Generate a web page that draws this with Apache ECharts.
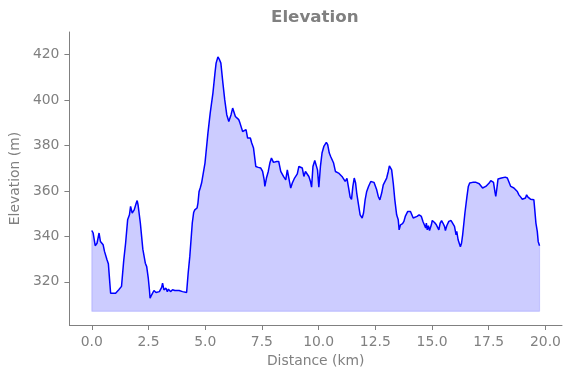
<!DOCTYPE html>
<html>
<head>
<meta charset="utf-8">
<title>Elevation</title>
<script src="https://cdn.jsdelivr.net/npm/echarts@6/dist/echarts.min.js"></script>
<style>
html,body{margin:0;padding:0;background:#fff;}
#echart1{width:571px;height:378px;}
</style>
</head>
<body>
<div id="echart1"></div>
<script>
// distance along the route (km)
var distanceKm = [0.00,0.06,0.15,0.23,0.32,0.38,0.44,0.50,0.56,0.61,0.67,0.70,0.73,0.79,0.83,0.90,1.05,1.19,1.25,1.31,
    1.41,1.49,1.58,1.66,1.71,1.78,1.87,1.96,2.00,2.04,2.14,2.25,2.36,2.42,2.49,2.54,2.57,2.64,2.74,2.83,
    2.98,3.08,3.12,3.18,3.27,3.33,3.38,3.47,3.56,3.66,3.73,3.85,3.91,4.00,4.18,4.25,4.32,4.43,4.49,4.54,
    4.64,4.68,4.73,4.78,4.84,4.90,4.99,5.12,5.22,5.34,5.43,5.48,5.56,5.63,5.69,5.78,5.86,5.95,6.04,6.14,
    6.21,6.29,6.33,6.40,6.48,6.53,6.65,6.73,6.80,6.87,6.99,7.05,7.09,7.13,7.19,7.23,7.34,7.45,7.53,7.60,
    7.63,7.70,7.78,7.85,7.92,8.01,8.07,8.15,8.24,8.33,8.45,8.55,8.62,8.70,8.77,8.84,8.94,9.06,9.13,9.20,
    9.28,9.35,9.42,9.50,9.57,9.64,9.69,9.75,9.83,9.89,9.95,10.01,10.08,10.15,10.23,10.30,10.34,10.40,10.47,10.53,
    10.59,10.66,10.74,10.81,10.88,10.95,11.03,11.10,11.17,11.25,11.32,11.39,11.45,11.51,11.57,11.63,11.68,11.76,11.83,11.92,
    11.98,12.05,12.12,12.20,12.30,12.35,12.44,12.50,12.56,12.63,12.70,12.78,12.85,12.92,13.00,13.07,13.12,13.17,13.22,13.29,
    13.36,13.44,13.51,13.55,13.61,13.70,13.76,13.82,13.87,13.93,13.99,14.05,14.09,14.17,14.24,14.34,14.43,14.53,14.60,14.67,
    14.72,14.75,14.79,14.84,14.89,14.97,15.01,15.11,15.19,15.26,15.30,15.36,15.42,15.48,15.55,15.59,15.65,15.74,15.84,15.92,
    15.99,16.06,16.09,16.15,16.21,16.25,16.30,16.35,16.45,16.54,16.60,16.66,16.72,16.79,16.86,16.94,17.01,17.08,17.16,17.23,
    17.30,17.37,17.45,17.52,17.59,17.67,17.71,17.77,17.81,17.86,17.91,17.97,18.06,18.14,18.23,18.32,18.39,18.47,18.54,18.61,
    18.69,18.76,18.83,18.91,18.98,19.05,19.12,19.17,19.23,19.29,19.34,19.42,19.49,19.53,19.58,19.64,19.68,19.74];
// elevation (m)
var elevationM = [342.6,341.5,335.9,337.0,341.5,337.8,337.0,336.3,333.4,332.6,329.7,330.4,328.0,320.1,315.0,314.6,315.0,316.5,315.7,318.0,
    329.7,337.0,347.3,349.5,353.2,350.3,351.7,354.7,355.8,353.9,345.9,334.4,328.2,326.7,321.6,316.5,312.8,314.3,316.2,315.3,
    315.7,317.6,319.4,316.5,317.2,315.7,316.8,315.7,316.5,316.2,316.8,316.2,316.8,315.7,315.3,324.0,331.1,345.9,350.5,351.7,
    352.5,354.7,359.8,361.3,363.5,362.7,372.3,385.5,394.3,403.1,411.9,416.3,419.0,417.8,416.3,407.5,400.2,393.6,390.6,393.6,
    396.5,396.1,392.8,392.8,391.4,390.0,386.2,385.5,387.0,383.3,383.3,381.1,381.8,378.9,379.6,370.8,370.4,370.1,368.6,364.9,
    362.0,365.7,368.6,372.3,374.5,372.6,373.0,373.0,373.0,368.6,366.4,364.9,369.3,368.6,361.3,363.5,365.7,367.5,370.8,371.0,
    370.1,366.4,368.6,368.6,366.4,364.2,361.7,370.8,373.4,374.1,369.3,361.7,370.8,376.7,379.6,380.4,381.4,380.4,376.7,375.2,
    375.9,372.3,368.6,368.6,367.9,368.6,366.4,367.1,364.2,365.5,361.5,357.3,356.3,362.0,365.7,363.5,359.1,353.9,349.5,348.1,
    350.3,356.1,359.8,362.0,364.2,363.5,363.8,363.5,360.5,357.6,356.1,359.1,362.7,363.5,365.7,368.6,371.1,371.1,369.3,363.5,
    356.1,349.5,347.3,342.9,345.1,345.6,346.6,348.8,348.5,351.0,350.8,351.0,351.0,348.1,348.5,348.8,349.5,348.8,346.6,345.9,
    343.7,345.9,342.9,344.7,342.6,345.1,347.0,346.1,345.1,344.4,342.9,345.9,347.0,345.9,344.4,342.6,344.7,346.6,347.0,347.3,
    344.4,340.7,342.2,338.5,336.7,335.5,337.0,340.7,350.3,357.6,362.0,363.5,363.2,363.8,363.2,363.8,363.2,363.2,362.7,361.3,
    361.7,362.0,362.7,363.5,364.6,365.3,363.8,359.8,357.6,361.3,365.3,365.7,365.7,366.1,366.1,365.7,365.7,362.0,361.3,361.3,
    361.0,359.8,358.3,357.3,356.4,355.8,356.9,358.3,357.3,356.9,356.4,356.9,356.1,351.7,345.9,342.2,337.8,335.9];
var xTicks = [0, 2.5, 5, 7.5, 10, 12.5, 15, 17.5, 20];
var yTicks = [320, 340, 360, 380, 400, 420];
var fillBase = 307;

echarts_1();

function echarts_1() {
var myChart = echarts.init(document.getElementById('echart1'));
var grey = '#808080';
var font = 'DejaVu Sans';

var profile = distanceKm.map(function (d, i) { return [d, elevationM[i]]; });
var last = distanceKm.length - 1;
// outline of the filled polygon (left, bottom, right edges)
var fillEdge = [
    [distanceKm[0], elevationM[0]], [distanceKm[0], fillBase],
    [distanceKm[last], fillBase], [distanceKm[last], elevationM[last]]
];

option = {
    animation: false,
    title: {
        text: 'Elevation',
        left: 271,
        top: 9,
        padding: 0,
        textStyle: { color: grey, fontSize: 16.7, fontWeight: 'bold', fontFamily: font }
    },
    grid: { left: 66, right: 9, top: 32, bottom: 53 },
    xAxis: {
        type: 'value',
        min: -0.987,
        max: 20.73,
        name: 'Distance (km)',
        nameLocation: 'middle',
        nameGap: 29,
        nameTextStyle: { color: grey, fontSize: 13.9, fontFamily: font },
        axisLine: { onZero: false, lineStyle: { color: grey, width: 1 } },
        axisTick: { show: true, length: 5, lineStyle: { color: grey }, customValues: xTicks },
        axisLabel: {
            color: grey, fontSize: 13.9, fontFamily: font, margin: 10,
            customValues: xTicks,
            formatter: function (v) { return v.toFixed(1); }
        },
        splitLine: { show: false }
    },
    yAxis: {
        type: 'value',
        min: 301,
        max: 430,
        name: 'Elevation (m)',
        nameLocation: 'middle',
        nameGap: 42,
        nameTextStyle: { color: grey, fontSize: 13.9, fontFamily: font },
        axisLine: { show: true, onZero: false, lineStyle: { color: grey, width: 1 } },
        axisTick: { show: true, length: 5, lineStyle: { color: grey }, customValues: yTicks },
        axisLabel: { color: grey, fontSize: 13.9, fontFamily: font, margin: 10, customValues: yTicks },
        splitLine: { show: false }
    },
    series: [{
        type: 'line',
        data: profile,
        showSymbol: false,
        symbol: 'none',
        lineStyle: { color: '#0000ff', width: 1.5 },
        areaStyle: { color: 'rgba(0,0,255,0.2)', opacity: 1, origin: fillBase },
        z: 3
    }, {
        type: 'line',
        data: fillEdge,
        symbol: 'none',
        lineStyle: { color: 'rgba(0,0,255,0.15)', width: 1.2 },
        z: 2
    }]
};
myChart.setOption(option);
window.addEventListener("resize", function () {
    myChart.resize();
});
}
</script>
</body>
</html>
